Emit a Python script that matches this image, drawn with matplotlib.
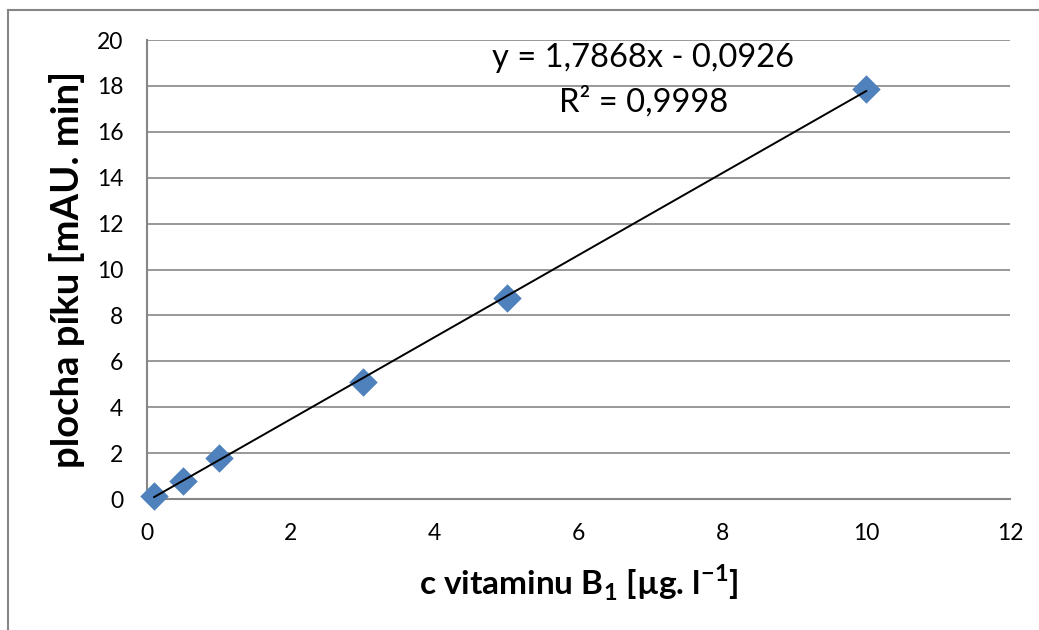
# Kalibracni krivka vitaminu B1

import numpy as np
import matplotlib.pyplot as plt
from matplotlib.lines import Line2D

plt.rcParams['font.family'] = ['Lato', 'DejaVu Sans']
plt.rcParams['mathtext.fontset'] = 'custom'
plt.rcParams['mathtext.rm'] = 'Lato'
plt.rcParams['mathtext.bf'] = 'Lato:bold'

# data
c_b1 = [0.1, 0.5, 1, 3, 5, 10]
plocha = [0.12, 0.80, 1.80, 5.08, 8.75, 17.85]

# trendline from the chart label
slope = 1.7868
intercept = -0.0926
r2 = 0.9998

x_ticks = [0, 2, 4, 6, 8, 10, 12]
y_ticks = [0, 2, 4, 6, 8, 10, 12, 14, 16, 18, 20]

fig = plt.figure(figsize=(10.39, 6.30), dpi=100)
ax = fig.add_axes([0.1415, 0.2079, 0.9721 - 0.1415, 0.9365 - 0.2079])

grid_col = '#868686'
ax.set_xlim(0, 12)
ax.set_ylim(0, 20)
ax.set_xticks(x_ticks)
ax.set_yticks(y_ticks)
ax.yaxis.grid(True, color=grid_col, linewidth=1.2)
ax.set_axisbelow(True)
for s in ['top', 'right']:
    ax.spines[s].set_visible(False)
for s in ['left', 'bottom']:
    ax.spines[s].set_color(grid_col)
    ax.spines[s].set_linewidth(1.5)
ax.tick_params(length=0, labelsize=16.5)
ax.tick_params(axis='y', pad=17)
ax.tick_params(axis='x', pad=17)

ax.scatter(c_b1, plocha, marker='D', s=210, color='#4F81BD', zorder=3,
           linewidths=0, clip_on=False)

x_line = np.array([min(c_b1), max(c_b1)])
ax.plot(x_line, slope * x_line + intercept, color='black', linewidth=1.4, zorder=4)

eq = 'y = ' + f'{slope:.4f}'.replace('.', ',') + 'x - ' + f'{abs(intercept):.4f}'.replace('.', ',')
ax.text(6.9, 19.2, eq, fontsize=23.5, ha='center', va='center')
ax.text(6.9, 17.3, 'R² = ' + f'{r2:.4f}'.replace('.', ','), fontsize=23.5, ha='center', va='center')

ax.set_xlabel(r'c vitaminu B$_{\mathbf{1}}$ [µg. l$^{\mathbf{-1}}$]', fontsize=24, fontweight='bold')
ax.set_ylabel('plocha píku [mAU. min]', fontsize=27.5, fontweight='bold')
ax.xaxis.set_label_coords(0.5, -0.14)
ax.yaxis.set_label_coords(-0.072, 0.5)

# outer chart border (top and left visible)
fig.add_artist(Line2D([8 / 1039, 1.01], [1 - 10 / 630, 1 - 10 / 630], color=grid_col, linewidth=1.5))
fig.add_artist(Line2D([8 / 1039, 8 / 1039], [1 - 10 / 630, -0.01], color=grid_col, linewidth=1.5))

fig.savefig('out.png', dpi=100)
